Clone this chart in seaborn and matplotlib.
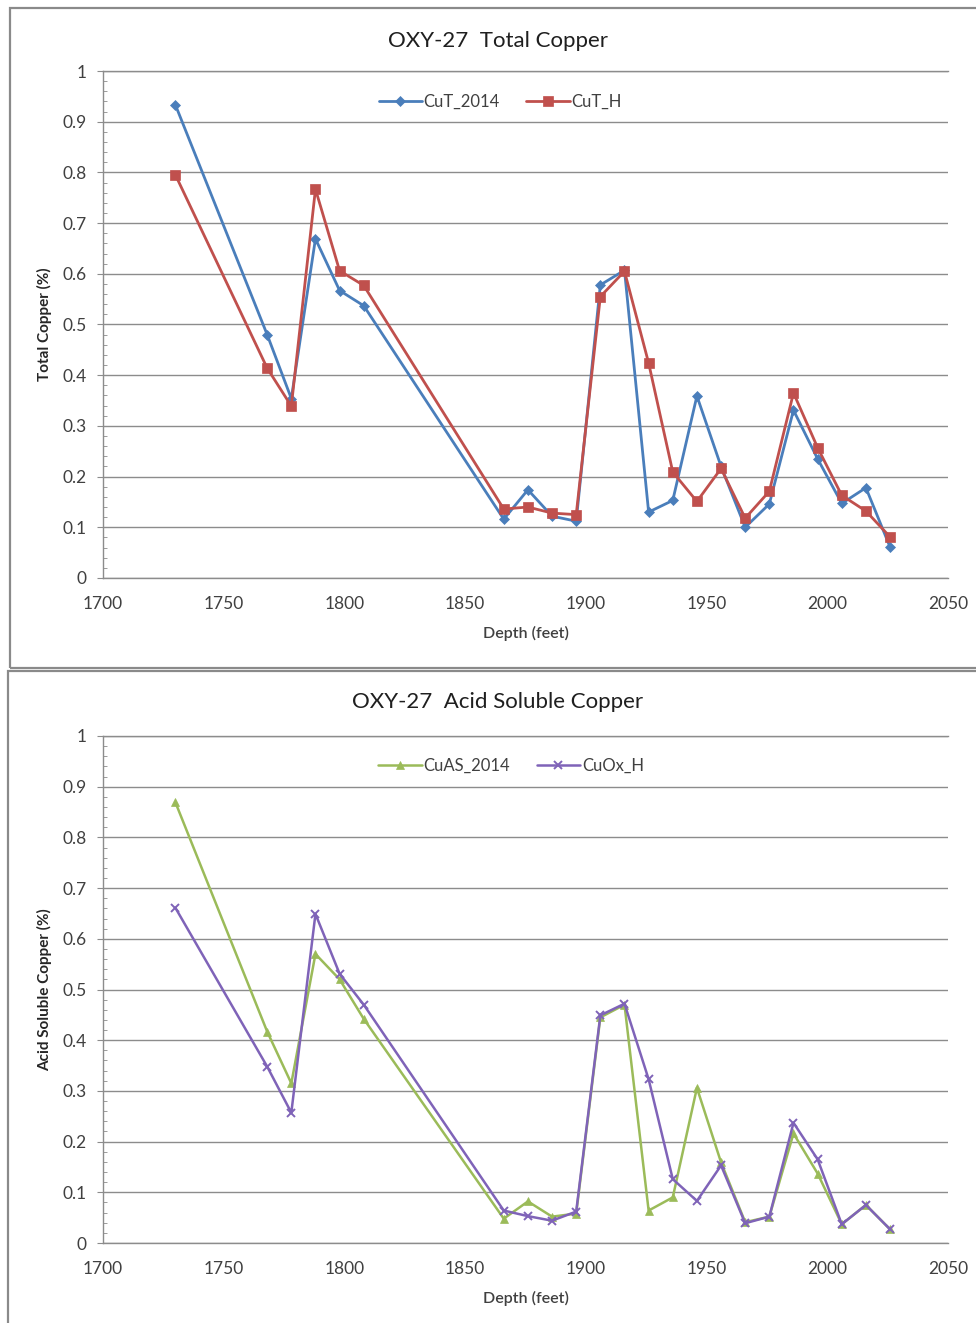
import numpy as np
import pandas as pd
import matplotlib
matplotlib.use("Agg")
import matplotlib.pyplot as plt
from matplotlib.patches import Rectangle
from matplotlib.ticker import MultipleLocator, FuncFormatter
import seaborn as sns

# ---------------- data ----------------
depth = [1730, 1768, 1778, 1788, 1798, 1808, 1866, 1876, 1886, 1896, 1906, 1916,
         1926, 1936, 1946, 1956, 1966, 1976, 1986, 1996, 2006, 2016, 2026]

cut_2014 = [0.933, 0.480, 0.354, 0.669, 0.567, 0.537, 0.116, 0.174, 0.122, 0.112, 0.578, 0.607,
            0.130, 0.153, 0.359, 0.220, 0.100, 0.146, 0.331, 0.235, 0.147, 0.178, 0.061]
cut_h = [0.795, 0.414, 0.339, 0.767, 0.606, 0.577, 0.136, 0.140, 0.128, 0.125, 0.555, 0.605,
         0.424, 0.209, 0.151, 0.216, 0.118, 0.171, 0.365, 0.257, 0.163, 0.132, 0.081]

cuas_2014 = [0.869, 0.417, 0.315, 0.570, 0.520, 0.442, 0.048, 0.082, 0.052, 0.058, 0.445, 0.470,
             0.064, 0.090, 0.306, 0.159, 0.041, 0.052, 0.216, 0.137, 0.037, 0.075, 0.027]
cuox_h = [0.661, 0.348, 0.257, 0.649, 0.531, 0.470, 0.064, 0.053, 0.044, 0.062, 0.449, 0.472,
          0.323, 0.126, 0.083, 0.153, 0.039, 0.052, 0.237, 0.165, 0.037, 0.075, 0.027]

x_ticks = [1700, 1750, 1800, 1850, 1900, 1950, 2000, 2050]
titles = ["OXY-27  Total Copper", "OXY-27  Acid Soluble Copper"]
ylabels = ["Total Copper (%)", "Acid Soluble Copper (%)"]
xlabel = "Depth (feet)"

# ---------------- style ----------------
sns.set_theme(style="white")
plt.rcParams["font.family"] = ["Lato", "DejaVu Sans"]

W, H = 976, 1323
fig = plt.figure(figsize=(W / 100, H / 100), dpi=100)
fig.patch.set_facecolor("white")

def fx(px):
    return px / W

def fy(py):
    return 1 - py / H

grid_c = "#8c8c8c"
text_c = "#404040"

# panel frames
fig.add_artist(Rectangle((fx(10), fy(668)), fx(980), fy(8) - fy(668), transform=fig.transFigure,
                         fill=False, ec="#8a8a8a", lw=1.6))
fig.add_artist(Rectangle((fx(8), fy(1330)), fx(980), fy(671) - fy(1330), transform=fig.transFigure,
                         fill=False, ec="#8a8a8a", lw=1.6))

ax_top = fig.add_axes([fx(103), fy(578), fx(948) - fx(103), fy(71) - fy(578)])
ax_bot = fig.add_axes([fx(103), fy(1243), fx(948) - fx(103), fy(736) - fy(1243)])

df_top = pd.DataFrame({"depth": depth, "CuT_2014": cut_2014, "CuT_H": cut_h})
df_bot = pd.DataFrame({"depth": depth, "CuAS_2014": cuas_2014, "CuOx_H": cuox_h})

c_blue, c_red, c_green, c_purple = "#4a7ebb", "#c0504d", "#9bbb59", "#7f63b8"

sns.lineplot(data=df_top, x="depth", y="CuT_2014", ax=ax_top, color=c_blue, lw=2.0,
             marker="D", markersize=5, markeredgewidth=0.5, markeredgecolor=c_blue,
             label="CuT_2014", estimator=None)
sns.lineplot(data=df_top, x="depth", y="CuT_H", ax=ax_top, color=c_red, lw=2.0,
             marker="s", markersize=6.5, markeredgewidth=0.5, markeredgecolor=c_red,
             label="CuT_H", estimator=None)
sns.lineplot(data=df_bot, x="depth", y="CuAS_2014", ax=ax_bot, color=c_green, lw=1.8,
             marker="^", markersize=6, markeredgewidth=0.5, markeredgecolor=c_green,
             label="CuAS_2014", estimator=None)
sns.lineplot(data=df_bot, x="depth", y="CuOx_H", ax=ax_bot, color=c_purple, lw=1.8,
             marker="x", markersize=6, markeredgewidth=1.4, markeredgecolor=c_purple,
             label="CuOx_H", estimator=None)

legend_pos = [(0.470, 0.939), (0.483, 0.941)]
title_y = [41, 702]

def fmt(v, p):
    if abs(v) < 1e-9:
        return "0"
    if abs(v - 1) < 1e-9:
        return "1"
    return f"{v:.1f}"

for i, ax in enumerate([ax_top, ax_bot]):
    ax.set_xlim(1700, 2050)
    ax.set_ylim(0, 1)
    ax.set_xticks(x_ticks)
    ax.yaxis.set_major_locator(MultipleLocator(0.1))
    ax.yaxis.set_minor_locator(MultipleLocator(0.02))
    ax.yaxis.set_major_formatter(FuncFormatter(fmt))
    ax.grid(axis="y", which="major", color=grid_c, lw=1.0)
    ax.grid(axis="x", visible=False)
    ax.set_axisbelow(True)
    ax.spines["right"].set_visible(False)
    for s in ["top", "left", "bottom"]:
        ax.spines[s].set_color(grid_c)
        ax.spines[s].set_linewidth(1.0)
    ax.tick_params(axis="x", which="major", direction="out", length=4, width=0.8, color=grid_c,
                   labelsize=12.5, labelcolor=text_c, pad=9)
    ax.tick_params(axis="y", which="major", direction="out", length=4, width=0.8, color=grid_c,
                   labelsize=12.5, labelcolor=text_c, pad=8, left=True)
    ax.tick_params(axis="y", which="minor", direction="in", length=3, width=0.6, color=grid_c, left=True)
    ax.set_xlabel(xlabel, fontsize=11.5, color=text_c, fontweight="semibold", labelpad=10)
    ax.set_ylabel(ylabels[i], fontsize=11, color="#262626", fontweight="bold", labelpad=7)
    leg = ax.legend(loc="center", bbox_to_anchor=legend_pos[i], ncol=2, frameon=False,
                    fontsize=12, handlelength=2.6, handletextpad=0.1, columnspacing=1.6,
                    numpoints=1)
    for t in leg.get_texts():
        t.set_color(text_c)
    fig.text(fx(498), fy(title_y[i]), titles[i], ha="center", va="center", fontsize=16,
             color="#1f1f1f")

fig.savefig("out.png", dpi=100, facecolor="white")
